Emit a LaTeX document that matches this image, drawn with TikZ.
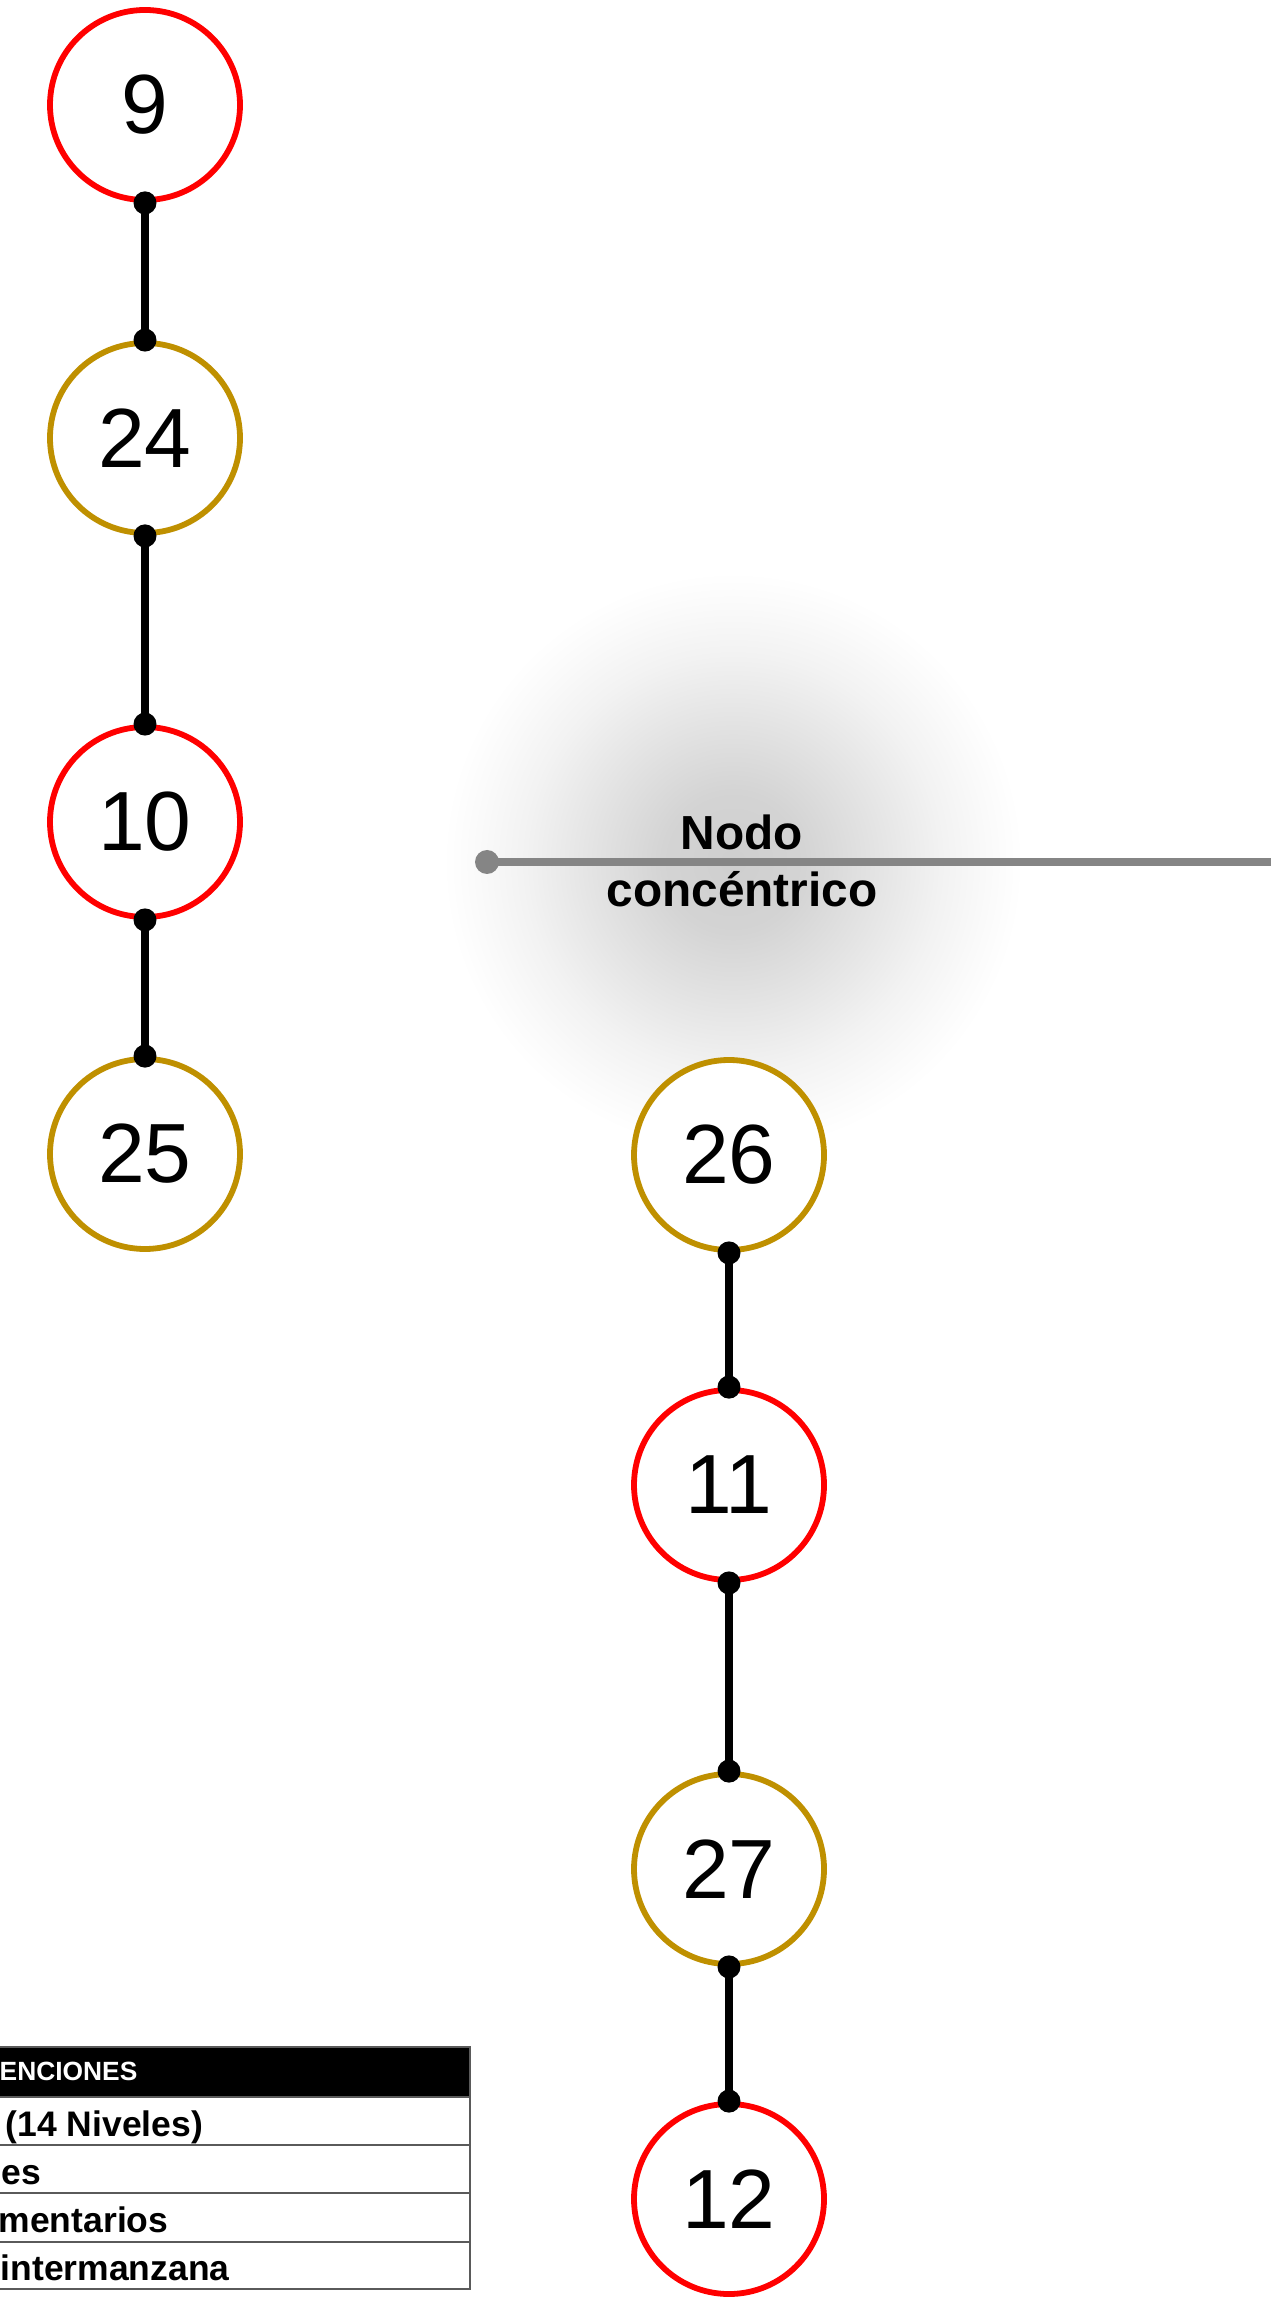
\documentclass[tikz,border=0pt]{standalone}
\usepackage{fontspec}
\setmainfont{Liberation Sans}
\usetikzlibrary{positioning,calc}
\definecolor{NodeRed}{HTML}{FF0000}
\definecolor{NodeGold}{HTML}{BF9000}
\definecolor{AxisGray}{HTML}{858585}
\definecolor{RuleGray}{HTML}{5A5A5A}
\pgfdeclareradialshading{halo}{\pgfpoint{0bp}{0bp}}{color(0bp)=(black!19); color(6bp)=(black!17); color(12bp)=(black!11); color(18bp)=(black!5); color(22bp)=(black!2); color(25bp)=(white); color(50bp)=(white)}

\begin{document}
\begin{tikzpicture}[
  main/.style={circle, draw=NodeRed, line width=0.058cm, fill=white, minimum size=1.9cm,
               inner sep=0pt, font=\fontsize{23.9}{28}\selectfont},
  sec/.style={main, draw=NodeGold},
  link/.style={line width=0.075cm, black},
  axis/.style={line width=0.08cm, AxisGray},
  tag/.style={align=center, font=\fontsize{13.6}{16.2}\selectfont\bfseries, inner sep=0pt},
  cell/.style={anchor=base west, inner sep=0pt, font=\fontsize{10.1}{12}\selectfont\bfseries},
  head/.style={anchor=base west, inner sep=0pt, text=white, font=\fontsize{7.5}{9}\selectfont\bfseries}]

  \useasboundingbox (0,0) rectangle (12.71,-22.99);

  % ===== concentric node (glow + axis) =====
  \coordinate (glowc) at (7.33,-8.62);
  \shade[shading=halo] (glowc) circle (2.9);
  \coordinate (axend) at (12.9,-8.62);
  \node[circle, fill=AxisGray, inner sep=0pt, minimum size=0.24cm] (axdot) at (4.87,-8.62) {};
  \draw[axis] (axdot.center) -- (axend);
  \node[tag] (conc) at (7.42,-8.61) {Nodo\\ concéntrico};

  % ===== left column =====
  \node[main] (n9)  at (1.45,-1.05)  {9};
  \node[sec]  (n24) at (1.45,-4.38)  {24};
  \node[main] (n10) at (1.45,-8.22)  {10};
  \node[sec]  (n25) at (1.45,-11.54) {25};

  % ===== right column =====
  \node[sec]  (n26) at (7.29,-11.55) {26};
  \node[main] (n11) at (7.29,-14.85) {11};
  \node[sec]  (n27) at (7.29,-18.69) {27};
  \node[main] (n12) at (7.29,-21.99) {12};

  % ===== links =====
  \draw[link] (n9.south)  -- (n24.north);
  \draw[link] (n24.south) -- (n10.north);
  \draw[link] (n10.south) -- (n25.north);
  \draw[link] (n26.south) -- (n11.north);
  \draw[link] (n11.south) -- (n27.north);
  \draw[link] (n27.south) -- (n12.north);
  \foreach \p in {n9.south,n24.north,n24.south,n10.north,n10.south,n25.north,
                  n26.south,n11.north,n11.south,n27.north,n27.south,n12.north}
    \fill (\p) circle (0.115);

  % ===== legend table =====
  \fill[black] (-0.1,-20.47) rectangle (4.70,-20.97);
  \foreach \ya/\yb in {20.47/20.97, 20.97/21.45, 21.45/21.93, 21.93/22.42, 22.42/22.89}
    \draw[RuleGray, line width=0.015cm] (-0.1,-\ya) rectangle (4.70,-\yb);
  \node[head] (lh) at (-0.01,-20.80) {ENCIONES};
  \node[cell] (l1) at (0.05,-21.36)  {(14 Niveles)};
  \node[cell] (l2) at (0.01,-21.84)  {es};
  \node[cell] (l3) at (-0.02,-22.32) {mentarios};
  \node[cell] (l4) at (0.0,-22.80)   {intermanzana};

\end{tikzpicture}
\end{document}
